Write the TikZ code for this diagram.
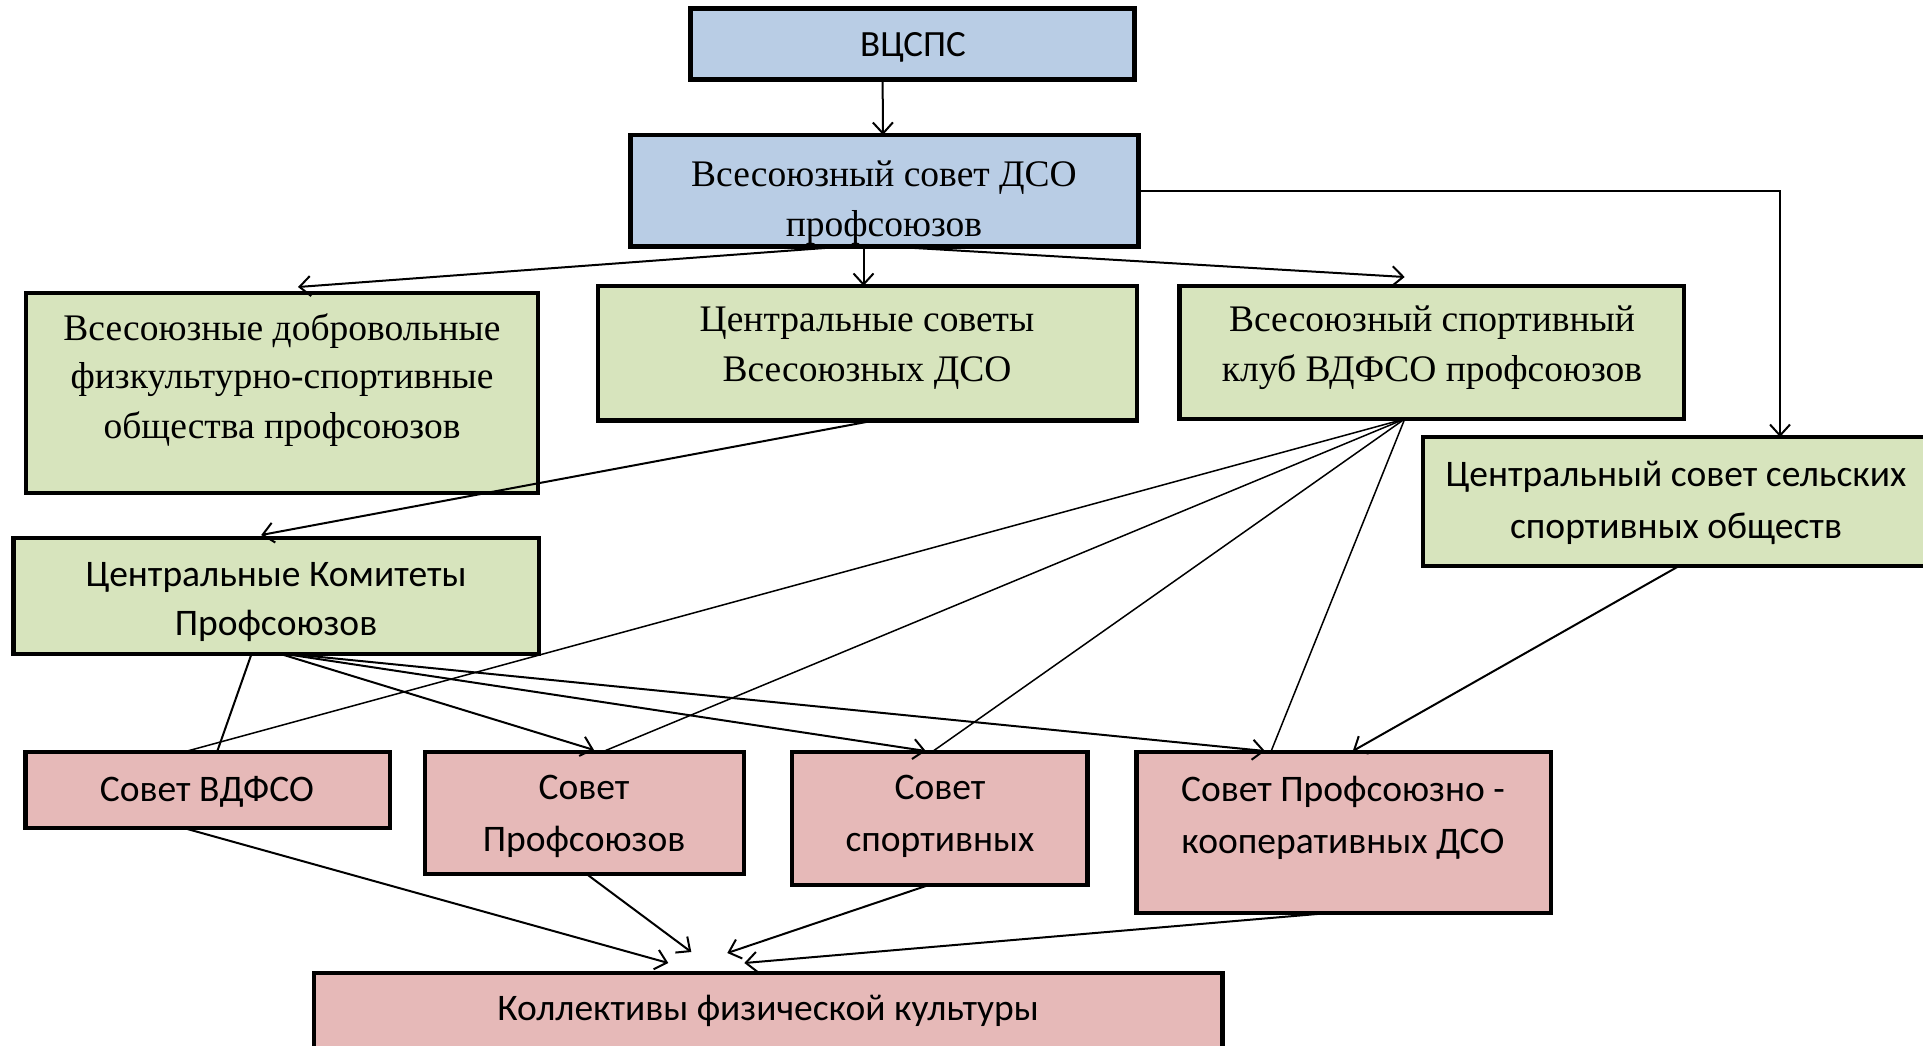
\documentclass[tikz,border=0pt]{standalone}
\usepackage{fontspec}
\setmainfont{Liberation Serif}
\newfontfamily\calfont{Carlito}
\usetikzlibrary{arrows.meta}
\definecolor{boxblue}{RGB}{185,205,229}
\definecolor{boxgreen}{RGB}{215,228,189}
\definecolor{boxpink}{RGB}{230,185,184}
\tikzset{
  box/.style={draw=black, line width=4.5pt, inner sep=0pt, outer sep=0pt},
  bluebox/.style={box, fill=boxblue},
  greenbox/.style={box, fill=boxgreen},
  pinkbox/.style={box, fill=boxpink},
  serif/.style={anchor=base, inner sep=0pt, font=\fontsize{37.5}{40}\selectfont},
  sans/.style={anchor=base, inner sep=0pt, font=\calfont\fontsize{37.5}{40}\selectfont},
  conn/.style={draw=black, line width=2pt},
  thin/.style={draw=black, line width=1.5pt},
  arr/.style={-{Straight Barb[length=11pt,width=20pt,line width=2pt]}}
}
\begin{document}
\begin{tikzpicture}[x=1pt,y=-1pt]
\useasboundingbox (0,0) rectangle (1923,1045);
% boxes
\node[bluebox, minimum width=444pt, minimum height=71pt] (v) at (912.6,43.8) {};
\node[bluebox, minimum width=508pt, minimum height=111.7pt] (s) at (884.5,190.8) {};
\node[greenbox, minimum width=512pt, minimum height=200pt] (a) at (282,393) {};
\node[greenbox, minimum width=539pt, minimum height=134.5pt] (b) at (867.5,353.2) {};
\node[greenbox, minimum width=504.5pt, minimum height=133pt] (c) at (1431.7,352.5) {};
\node[greenbox, minimum width=505pt, minimum height=129pt] (d) at (1675.5,501.5) {};
\node[greenbox, minimum width=525.6pt, minimum height=116pt] (e) at (276.2,596) {};
\node[pinkbox, minimum width=364.5pt, minimum height=76pt] (f) at (207.7,790) {};
\node[pinkbox, minimum width=319pt, minimum height=122pt] (g) at (584.5,813) {};
\node[pinkbox, minimum width=295.6pt, minimum height=133pt] (h) at (939.8,818.5) {};
\node[pinkbox, minimum width=414.3pt, minimum height=161pt] (i) at (1343.8,832.5) {};
\node[pinkbox, minimum width=908.7pt, minimum height=79pt] (j) at (768.3,1012.5) {};
% connectors
\draw[conn,arr] ([xshift=-30pt]v.south) -- ([xshift=-1.5pt]s.north);
\draw[conn,arr] ([xshift=-41.5pt]s.south) -- ([xshift=16pt,yshift=6pt]a.north);
\draw[conn,arr] ([xshift=-21pt]s.south) -- ([xshift=-4pt]b.north);
\draw[conn,arr] ([xshift=7.5pt]s.south) -- ([xshift=-27pt,yshift=9pt]c.north);
\draw[thin,arr] (s.east) -| ([xshift=104.5pt]d.north);
\draw[conn,arr] ([xshift=7pt]b.south) -- ([xshift=-15pt,yshift=3pt]e.north);
\draw[thin] ([xshift=-27pt]c.south) -- ([xshift=-24pt]f.north);
\draw[thin] ([xshift=-27pt]c.south) -- ([xshift=17.5pt]g.north);
\draw[thin] ([xshift=-27pt]c.south) -- ([xshift=-8pt]h.north);
\draw[thin] ([xshift=-27pt]c.south) -- ([xshift=-73pt]i.north);
\draw[conn] ([xshift=-24.7pt]e.south) -- ([xshift=9.3pt]f.north);
\draw[conn,arr] ([xshift=4.4pt]e.south) -- ([xshift=9.5pt,yshift=2pt]g.north);
\draw[conn,arr] ([xshift=9pt]e.south) -- ([xshift=-14pt,yshift=1pt]h.north);
\draw[conn,arr] ([xshift=14pt]e.south) -- ([xshift=-78.8pt,yshift=1pt]i.north);
\draw[conn,arr] ([xshift=3.5pt]d.south) -- ([xshift=9pt,yshift=1pt]i.north);
\draw[conn,arr] ([xshift=-24pt]f.south) -- ([xshift=-100pt,yshift=10pt]j.north);
\draw[conn,arr] ([xshift=2pt]g.south) -- ([xshift=-77pt,yshift=21pt]j.north);
\draw[conn,arr] ([xshift=-11pt]h.south) -- ([xshift=-41pt,yshift=20pt]j.north);
\draw[conn,arr] ([xshift=-15pt]i.south) -- ([xshift=-24pt,yshift=10pt]j.north);
% texts
\node[sans, font=\calfont\fontsize{37}{40}\selectfont] (vt) at (913,56.7) {ВЦСПС};
\node[serif] (st1) at (884,186.7) {Всесоюзный совет ДСО};
\node[serif] (st2) at (884,236.7) {профсоюзов};
\node[serif] (at1) at (282,340) {Всесоюзные добровольные};
\node[serif] (at2) at (282,388.3) {физкультурно-спортивные};
\node[serif] (at3) at (282,438.3) {общества профсоюзов};
\node[serif] (bt1) at (867,331.7) {Центральные советы};
\node[serif] (bt2) at (867,381.7) {Всесоюзных ДСО};
\node[serif] (ct1) at (1432,331.7) {Всесоюзный спортивный};
\node[serif] (ct2) at (1432,381.7) {клуб ВДФСО профсоюзов};
\node[sans] (dt1) at (1676,486.7) {Центральный совет сельских};
\node[sans] (dt2) at (1676,538) {спортивных обществ};
\node[sans] (et1) at (276,586.7) {Центральные Комитеты};
\node[sans] (et2) at (276,635) {Профсоюзов};
\node[sans] (ft1) at (207,801.7) {Совет ВДФСО};
\node[sans] (gt1) at (584,799.3) {Совет};
\node[sans] (gt2) at (584,851.7) {Профсоюзов};
\node[sans] (ht1) at (940,799.3) {Совет};
\node[sans] (ht2) at (940,851.7) {спортивных};
\node[sans] (it1) at (1343,801.7) {Совет Профсоюзно -};
\node[sans] (it2) at (1343,853) {кооперативных ДСО};
\node[sans] (jt1) at (768,1020) {Коллективы физической культуры};
\end{tikzpicture}
\end{document}
